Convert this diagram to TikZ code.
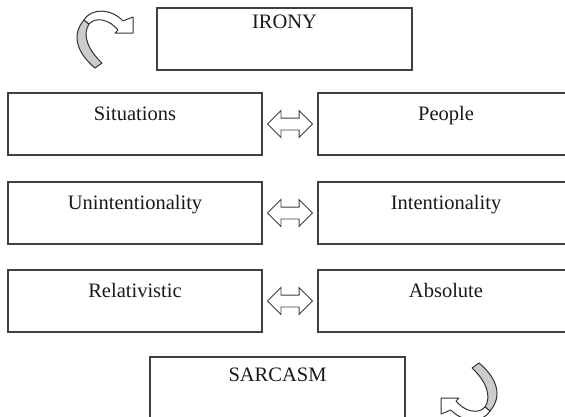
\documentclass[tikz,border=0pt]{standalone}
\usepackage{fontspec}
\setmainfont{Liberation Serif}
\usetikzlibrary{shapes.arrows,calc}
\begin{document}
\begin{tikzpicture}[x=1pt,y=-1pt,
 box/.style={draw=black!75, line width=1.4pt, minimum width=254pt, minimum height=62pt, inner sep=0pt},
 lbl/.style={anchor=base, font=\fontsize{20.5}{24}\selectfont, inner sep=0pt, text=black!90},
 dbl/.style={double arrow, draw=black!75, fill=white, line width=0.9pt, minimum height=45pt, inner xsep=0pt, inner ysep=5.5pt, double arrow head extend=7.5pt},
 ribgray/.style={fill=black!20, draw=black!80, line width=1pt, line join=round},
 ribwhite/.style={fill=white, draw=black!80, line width=1pt, line join=round},
 curl/.pic={
  \path[ribgray] (84,20) .. controls (71,35) and (77,53) .. (95,68) -- (102,63) .. controls (88,50) and (82,35) .. (89,24) -- cycle;
  \path[ribwhite] (84,20) .. controls (92,7) and (112,9) .. (123,21) -- (133,17) -- (133,33) -- (115,33) -- (118,30) .. controls (110,20) and (96,16) .. (89,24) -- cycle;
 }]
\useasboundingbox (0,0) rectangle (565,416);
% top and bottom boxes
\node[box, minimum width=255pt] (irony) at (284.5,39) {};
\node[lbl] (ironyt) at ([yshift=-21pt]irony.north) {IRONY};
\node[box, minimum width=255pt] (sarc) at (277.5,388) {};
\node[lbl] (sarct) at ([yshift=-25pt]sarc.north) {SARCASM};
% rows
\node[box] (sit) at (135,124) {};
\node[box, minimum width=256pt] (peo) at (446,124) {};
\node[box] (unin) at (135,213) {};
\node[box, minimum width=256pt] (inte) at (446,213) {};
\node[box] (rel) at (135,301) {};
\node[box, minimum width=256pt] (abs) at (446,301) {};
\node[lbl] (sitt) at ([yshift=-28pt]sit.north) {Situations};
\node[lbl] (peot) at ([yshift=-28pt]peo.north) {People};
\node[lbl] (unint) at ([yshift=-28pt]unin.north) {Unintentionality};
\node[lbl] (intet) at ([yshift=-28pt]inte.north) {Intentionality};
\node[lbl] (relt) at ([yshift=-28pt]rel.north) {Relativistic};
\node[lbl] (abst) at ([yshift=-28pt]abs.north) {Absolute};
% double arrows
\node[dbl] (a1) at ($(sit.east)!0.5!(peo.west)$) {};
\node[dbl] (a2) at ($(unin.east)!0.5!(inte.west)$) {};
\node[dbl] (a3) at ($(rel.east)!0.5!(abs.west)$) {};
% curved arrows
\pic at (0,0) {curl};
\pic[rotate=180] at (574,431) {curl};
\end{tikzpicture}
\end{document}
